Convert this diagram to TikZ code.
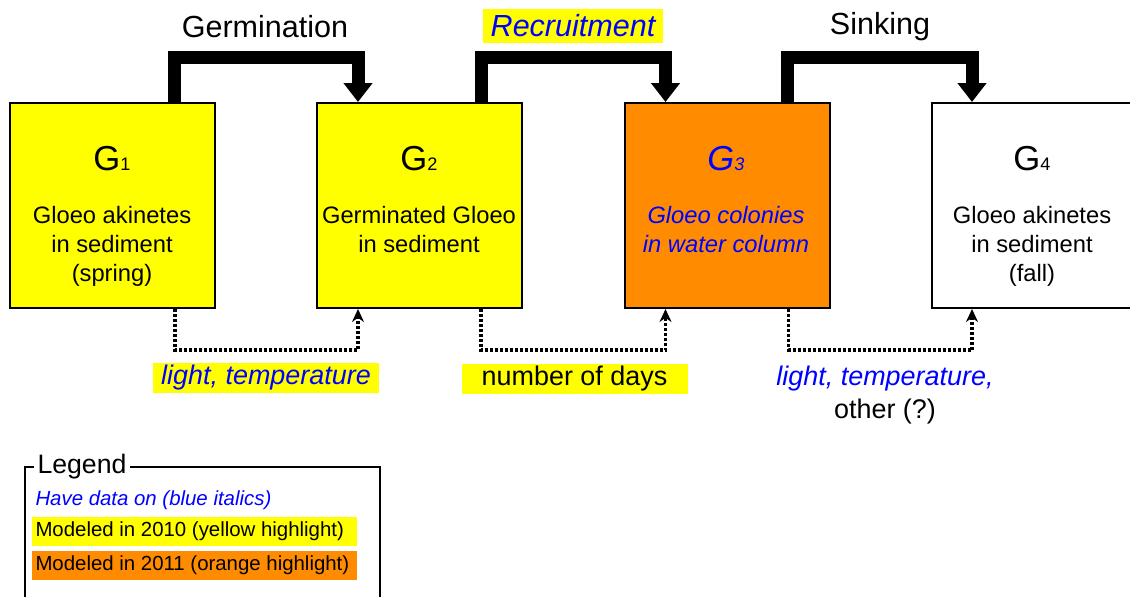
\documentclass[tikz,border=0pt]{standalone}
\usepackage{fontspec}
\setmainfont{Liberation Sans}
\usetikzlibrary{arrows.meta,calc}

\definecolor{gyellow}{RGB}{255,255,0}
\definecolor{gorange}{RGB}{255,140,0}
\definecolor{gblue}{RGB}{0,0,255}

\newcommand{\stagesym}[1]{G{\fontsize{13.6}{16}\selectfont #1}}
\newcommand{\descfont}{\fontsize{17.8}{21.75}\selectfont}
\newcommand{\factorfont}{\fontsize{20.2}{24.75}\selectfont}
\newcommand{\keytext}[1]{\makebox[238pt][l]{#1}}

\tikzset{every picture/.style={line width=0.75pt}}
\tikzset{
  stagebox/.style={draw, line width=1.5pt, minimum width=153.75pt, minimum height=153.75pt, inner sep=0pt},
  stagesymb/.style={anchor=base, inner sep=0pt, font=\fontsize{26}{30}\selectfont},
  stagedesc/.style={anchor=north, inner sep=0pt, align=center, font=\descfont},
  bigflow/.style={line width=9.75pt, -{Triangle[length=14.25pt,width=21pt]}},
  factorflow/.style={line width=2.4pt, dash pattern=on 2.25pt off 1.5pt, -{Stealth[length=9.75pt,width=9pt]}},
  steplabel/.style={font=\fontsize{22.9}{27}\selectfont, inner sep=0pt},
  factorlabel/.style={font=\factorfont, minimum width=169.5pt, minimum height=22.5pt, inner sep=0pt},
  keyitem/.style={anchor=west, font=\fontsize{15.3}{18}\selectfont, minimum height=21.75pt, inner xsep=3pt, inner ysep=0pt}
}

\begin{document}
\begin{tikzpicture}[x=0.75pt,y=0.75pt,yscale=-1,xscale=1]
\useasboundingbox (0,0) rectangle (1130,596);
\clip (0,0) rectangle (1130,596);

%Shape: Rectangle
\node[stagebox, fill=gyellow] (g1) at (112.5,205.5) {};
%Shape: Rectangle
\node[stagebox, fill=gyellow] (g2) at (419.5,205.5) {};
%Shape: Rectangle
\node[stagebox, fill=gorange] (g3) at (727,205.5) {};
%Shape: Rectangle
\node[stagebox, fill=white] (g4) at (1034.5,205.5) {};

% Text Node
\node[stagesymb] (g1sym) at (112,170) {\stagesym{1}};
\node[stagedesc] (g1desc) at (112,206) {Gloeo akinetes\\in sediment\\(spring)};
% Text Node
\node[stagesymb] (g2sym) at (419,170) {\stagesym{2}};
\node[stagedesc] (g2desc) at (419,206) {Germinated Gloeo\\in sediment};
% Text Node
\node[stagesymb, text=gblue] (g3sym) at (726,170) {\itshape\stagesym{3}};
\node[stagedesc, text=gblue, font=\descfont\itshape] (g3desc) at (726,206) {Gloeo colonies\\in water column};
% Text Node
\node[stagesymb] (g4sym) at (1032,170) {\stagesym{4}};
\node[stagedesc] (g4desc) at (1032,206) {Gloeo akinetes\\in sediment\\(fall)};

%Thick Arrows
\draw[bigflow] ($(g1.north west)+(165,0)$) -- ++(0,-44.5) -| ($(g2.north west)+(42,0)$);
\draw[bigflow] ($(g2.north west)+(165,0)$) -- ++(0,-44.5) -| ($(g3.north west)+(42,0)$);
\draw[bigflow] ($(g3.north west)+(164,0)$) -- ++(0,-44.5) -| ($(g4.north west)+(41,0)$);

%Dotted Arrows
\draw[factorflow] ($(g1.south west)+(166,0)$) -- ++(0,41) -| ($(g2.south west)+(42,0)$);
\draw[factorflow] ($(g2.south west)+(165,0)$) -- ++(0,41) -| ($(g3.south west)+(42,0)$);
\draw[factorflow] ($(g3.south west)+(165,0)$) -- ++(0,41) -| ($(g4.south west)+(41,0)$);

% Text Node
\node[steplabel] (germ) at (265,27) {Germination};
% Text Node
\node[steplabel, fill=gyellow, text=gblue, inner xsep=6pt, minimum height=25.5pt] (recr) at (573,26) {\itshape Recruitment};
% Text Node
\node[steplabel] (sink) at (880,27) {Sinking};

% Text Node
\node[factorlabel, fill=gyellow, text=gblue] (lighttemp) at (266,378) {\itshape light, temperature};
% Text Node
\node[factorlabel, fill=gyellow] (ndays) at (574.5,378.5) {number of days};
% Text Node
\node[factorlabel, anchor=north, align=center, minimum height=0pt] (lighttemp2) at (885,365) {{\color{gblue}\itshape light, temperature,}\\other (?)};

%Legend
\draw[line width=1.5pt] (25,600) -- (25,467) -- (380,467) -- (380,600);
\node[anchor=west, fill=white, inner xsep=3pt, inner ysep=0pt, font=\fontsize{20}{24}\selectfont] (legend) at (33,467) {Legend};
\node[keyitem, text=gblue] (keydata) at (31,500) {\itshape Have data on (blue italics)};
\node[keyitem, fill=gyellow] (key2010) at (31,531.5) {\keytext{Modeled in 2010 (yellow highlight)}};
\node[keyitem, fill=gorange] (key2011) at (31,565.5) {\keytext{Modeled in 2011 (orange highlight)}};

\end{tikzpicture}
\end{document}
